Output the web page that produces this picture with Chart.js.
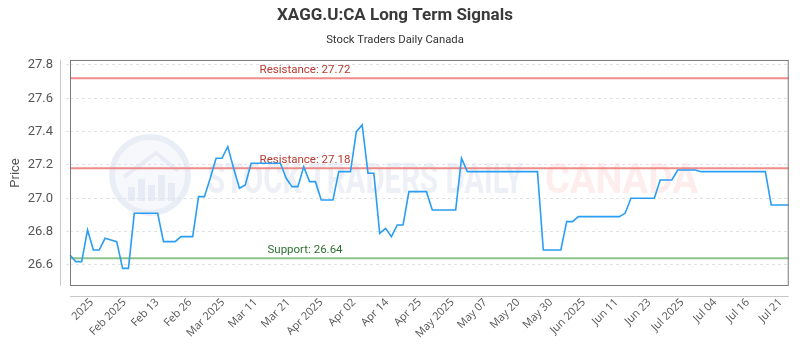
<!DOCTYPE html>
<html>
<head>
<meta charset="utf-8">
<title>XAGG.U:CA Long Term Signals</title>
<script src="https://cdn.jsdelivr.net/npm/chart.js@4.4.1/dist/chart.umd.min.js"></script>
<style>
  html, body { margin: 0; padding: 0; background: #fff; }
  #wrap { width: 800px; height: 350px; }
</style>
</head>
<body>
<div id="wrap"><canvas id="signalsChart"></canvas></div>
<script>
/*=============== DATA ===============*/

// Daily prices
const prices = [
  26.66, 26.62, 26.62, 26.81, 26.69, 26.69, 26.76, 26.75, 26.74, 26.58,
  26.58, 26.91, 26.91, 26.91, 26.91, 26.91, 26.74, 26.74, 26.74, 26.77,
  26.77, 26.77, 27.01, 27.01, 27.12, 27.24, 27.24, 27.31, 27.18, 27.06,
  27.08, 27.21, 27.21, 27.21, 27.21, 27.21, 27.21, 27.12, 27.07, 27.07,
  27.19, 27.10, 27.10, 26.99, 26.99, 26.99, 27.16, 27.16, 27.16, 27.40,
  27.44, 27.15, 27.15, 26.79, 26.82, 26.77, 26.84, 26.84, 27.04, 27.04,
  27.04, 27.04, 26.93, 26.93, 26.93, 26.93, 26.93, 27.24, 27.16, 27.16,
  27.16, 27.16, 27.16, 27.16, 27.16, 27.16, 27.16, 27.16, 27.16, 27.16,
  27.16, 26.69, 26.69, 26.69, 26.69, 26.86, 26.86, 26.89, 26.89, 26.89,
  26.89, 26.89, 26.89, 26.89, 26.89, 26.91, 27.00, 27.00, 27.00, 27.00,
  27.00, 27.11, 27.11, 27.11, 27.17, 27.17, 27.17, 27.17, 27.16, 27.16,
  27.16, 27.16, 27.16, 27.16, 27.16, 27.16, 27.16, 27.16, 27.16, 27.16,
  26.96, 26.96, 26.96, 26.96
];

// one category per trading session
const sessions = prices.map((_, i) => i);

// Labels printed under the chart
const tickLabels = [
  '2025', 'Feb 2025', 'Feb 13', 'Feb 26', 'Mar 2025', 'Mar 11', 'Mar 21',
  'Apr 2025', 'Apr 02', 'Apr 14', 'Apr 25', 'May 2025', 'May 07', 'May 20',
  'May 30', 'Jun 2025', 'Jun 11', 'Jun 23', 'Jul 2025', 'Jul 04', 'Jul 16', 'Jul 21'
];

// Signal levels
const levelNames = ['Resistance', 'Resistance', 'Support'];
const levelValues = [27.72, 27.18, 26.64];

/*=============== STYLE ===============*/

const levelStyle = {
  Resistance: { line: 'rgba(236, 120, 116, 0.85)', text: '#b83a30' },
  Support: { line: 'rgba(120, 186, 120, 0.85)', text: '#2e7031' }
};
const FONT = 'Roboto, "Noto Sans", sans-serif';

// faint logo + name behind the data
const watermark = {
  id: 'watermark',
  beforeDatasetsDraw(chart) {
    const { ctx, chartArea: a } = chart;
    const cx = a.left + 80, cy = a.top + 115, r = 38;
    ctx.save();
    ctx.strokeStyle = 'rgba(215, 222, 238, 0.55)';
    ctx.lineWidth = 6;
    ctx.beginPath();
    ctx.arc(cx, cy, r, 0, Math.PI * 2);
    ctx.stroke();
    ctx.fillStyle = 'rgba(228, 233, 244, 0.3)';
    ctx.beginPath();
    ctx.arc(cx, cy, r - 3, 0, Math.PI * 2);
    ctx.fill();
    // house roof
    ctx.strokeStyle = 'rgba(215, 222, 238, 0.45)';
    ctx.lineWidth = 4;
    ctx.beginPath();
    ctx.moveTo(cx - 26, cy + 2);
    ctx.lineTo(cx + 6, cy - 22);
    ctx.lineTo(cx + 28, cy - 4);
    ctx.stroke();
    // bars
    ctx.fillStyle = 'rgba(215, 222, 238, 0.5)';
    [[-22, 14], [-12, 22], [-2, 16], [8, 26], [18, 18]].forEach(([dx, h]) => {
      ctx.fillRect(cx + dx, cy + 26 - h, 7, h);
    });

    ctx.font = 'bold 42px ' + FONT;
    ctx.textBaseline = 'alphabetic';
    ctx.fillStyle = 'rgba(220, 225, 238, 0.5)';
    ctx.fillText('STOCK TRADERS DAILY', a.left + 137, a.top + 133, 316);
    ctx.fillStyle = 'rgba(252, 214, 214, 0.45)';
    ctx.fillText('CANADA', a.left + 475, a.top + 133, 153);
    ctx.restore();
  }
};

// support / resistance lines with their captions
const levelLines = {
  id: 'levelLines',
  beforeDatasetsDraw(chart) {
    const { ctx, chartArea: a, scales: { y } } = chart;
    ctx.save();
    levelValues.forEach((v, i) => {
      const st = levelStyle[levelNames[i]];
      const py = y.getPixelForValue(v);
      ctx.strokeStyle = st.line;
      ctx.lineWidth = 2;
      ctx.beginPath();
      ctx.moveTo(a.left, py);
      ctx.lineTo(a.right, py);
      ctx.stroke();
      ctx.fillStyle = st.text;
      ctx.font = '11.5px ' + FONT;
      ctx.textAlign = 'center';
      ctx.textBaseline = 'bottom';
      ctx.fillText(levelNames[i] + ': ' + v.toFixed(2), a.left + a.width * 0.327, py - 2);
    });
    ctx.restore();
  }
};

// frame around the plot and the detached axis lines
const frame = {
  id: 'frame',
  afterDraw(chart) {
    const { ctx, chartArea: a } = chart;
    ctx.save();
    ctx.strokeStyle = '#c8c8c8';
    ctx.lineWidth = 1;
    ctx.beginPath();
    ctx.moveTo(a.left - 9.5, a.top);
    ctx.lineTo(a.left - 9.5, a.bottom);
    ctx.moveTo(a.left, a.bottom + 10.5);
    ctx.lineTo(a.right, a.bottom + 10.5);
    ctx.stroke();
    ctx.strokeStyle = '#7a7a7a';
    ctx.strokeRect(a.left + 0.5, a.top + 0.5, a.width - 1, a.height - 1);
    ctx.restore();
  }
};

/*=============== CHART ===============*/

new Chart(document.getElementById('signalsChart'), {
  type: 'line',
  data: {
    labels: sessions,
    datasets: [{
      label: 'Price',
      data: prices,
      borderColor: '#2a9df4',
      borderWidth: 1.6,
      pointRadius: 0,
      tension: 0,
      fill: false
    }]
  },
  options: {
    responsive: true,
    maintainAspectRatio: false,
    animation: false,
    layout: { padding: { left: 0, right: 10, top: 0, bottom: 0 } },
    plugins: {
      legend: { display: false },
      tooltip: { enabled: false },
      title: {
        display: true,
        text: 'XAGG.U:CA Long Term Signals',
        color: '#3a3a3a',
        font: { family: FONT, size: 17, weight: 'bold' },
        padding: { top: 6, bottom: 7 }
      },
      subtitle: {
        display: true,
        text: 'Stock Traders Daily Canada',
        color: '#333',
        font: { family: FONT, size: 11.3 },
        padding: { top: 0, bottom: 13 }
      }
    },
    scales: {
      x: {
        type: 'category',
        display: false,
        offset: false
      },
      xTicks: {
        type: 'linear',
        position: 'bottom',
        min: -0.66,
        max: 21.25,
        afterFit: (scale) => { scale.height = 64; },
        grid: { display: false, drawTicks: false },
        border: { display: false },
        ticks: {
          stepSize: 1,
          includeBounds: false,
          autoSkip: false,
          minRotation: 45,
          maxRotation: 45,
          padding: 10,
          color: '#555',
          font: { family: '"Open Sans", sans-serif', size: 11 },
          callback: (v) => tickLabels[v] ?? ''
        }
      },
      y: {
        min: 26.474,
        max: 27.83,
        afterFit: (scale) => { scale.width = 70; },
        border: { display: false, dash: [3, 3] },
        grid: {
          color: '#e2e2e2',
          tickLength: 4,
          tickBorderDash: [3, 3],
          drawTicks: true
        },
        ticks: {
          stepSize: 0.2,
          includeBounds: false,
          padding: 13,
          color: '#555',
          font: { family: FONT, size: 13 },
          callback: (v) => v.toFixed(1)
        },
        title: {
          display: true,
          text: 'Price',
          color: '#555',
          font: { family: FONT, size: 13 },
          padding: { top: 8, bottom: 0 }
        }
      }
    }
  },
  plugins: [watermark, levelLines, frame]
});
</script>
</body>
</html>
